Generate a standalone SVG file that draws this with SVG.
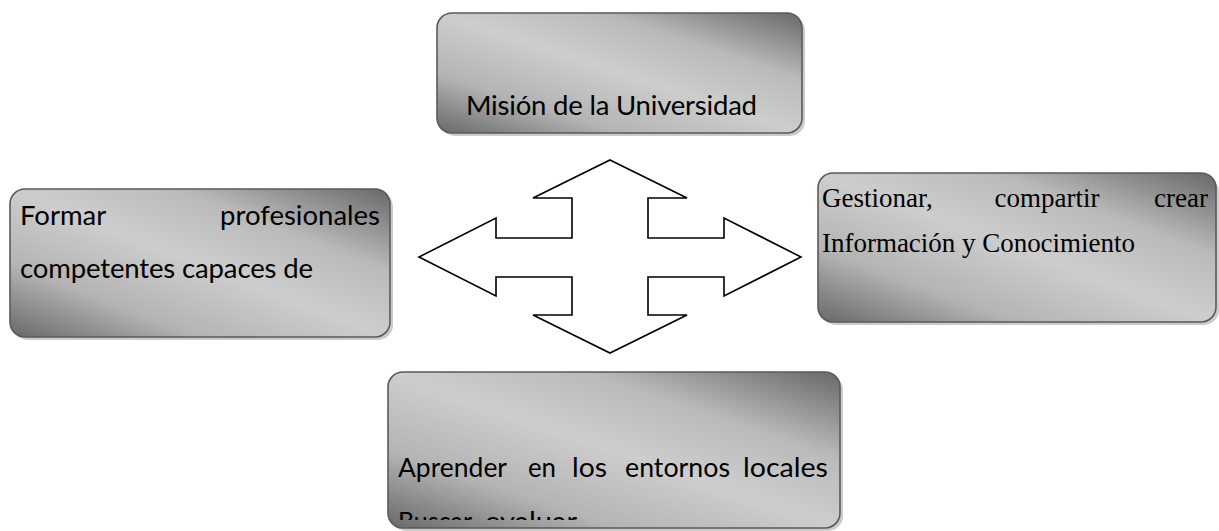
<svg xmlns="http://www.w3.org/2000/svg" width="1219" height="531" viewBox="0 0 1219 531">
<style>
.box{stroke:#5a5a5a;stroke-width:1.6;fill:url(#g)}
.shadow{fill:#a8a8a8;opacity:0.6}
.sans{font-family:Lato,"Open Sans","Liberation Sans",sans-serif;font-size:27.5px;fill:#000}
.serif{font-family:"Liberation Serif","Times New Roman",serif;font-size:27px;fill:#000}
.arrow{fill:#fff;stroke:#000;stroke-width:1.6;stroke-linejoin:miter}
</style>
<defs>
<linearGradient id="g" x1="0" y1="1" x2="1" y2="0">
<stop offset="0" stop-color="#686868"/>
<stop offset="0.25" stop-color="#b4b4b4"/>
<stop offset="0.5" stop-color="#cdcdcd"/>
<stop offset="0.72" stop-color="#bababa"/>
<stop offset="1" stop-color="#686868"/>
</linearGradient>
<clipPath id="clipBottom"><rect x="388" y="372" width="452" height="148"/></clipPath>
</defs>
<rect width="1219" height="531" fill="#fff"/>

<g id="connectors">
<polygon class="arrow" points="610,160 687,198 648,198 648,238 724,238 724,218 801,257 724,296 724,277 648,277 648,315 687,315 610,353 533,315 572,315 572,277 496,277 496,296 419,257 496,218 496,238 572,238 572,198 533,198"/>
</g>

<g id="node-mision">
<rect class="shadow" x="440" y="16" width="365" height="120" rx="15"/>
<rect class="box" x="437" y="13" width="365" height="120" rx="15"/>
<text class="sans" x="466" y="115" textLength="291">Misión de la Universidad</text>
</g>

<g id="node-formar">
<rect class="shadow" x="13" y="192" width="380" height="148" rx="15"/>
<rect class="box" x="10" y="189" width="380" height="148" rx="15"/>
<text class="sans" x="20" y="225">Formar</text>
<text class="sans" x="380" y="225" text-anchor="end">profesionales</text>
<text class="sans" x="20" y="278" textLength="293">competentes capaces de</text>
</g>

<g id="node-gestionar">
<rect class="shadow" x="821" y="177" width="398" height="148" rx="15"/>
<rect class="box" x="818" y="173" width="398" height="149" rx="15"/>
<text class="serif" x="822" y="207">Gestionar,</text>
<text class="serif" x="1047" y="207" text-anchor="middle">compartir</text>
<text class="serif" x="1208" y="207" text-anchor="end">crear</text>
<text class="serif" x="822" y="252" textLength="313">Información y Conocimiento</text>
</g>

<g id="node-aprender">
<rect class="shadow" x="391" y="375" width="452" height="156" rx="15"/>
<rect class="box" x="388" y="372" width="452" height="156" rx="15"/>
<g clip-path="url(#clipBottom)">
<text class="sans" x="398" y="477" textLength="109" lengthAdjust="spacingAndGlyphs">Aprender</text>
<text class="sans" x="528" y="477" textLength="28" lengthAdjust="spacingAndGlyphs">en</text>
<text class="sans" x="572" y="477" textLength="35" lengthAdjust="spacingAndGlyphs">los</text>
<text class="sans" x="625" y="477" textLength="105" lengthAdjust="spacingAndGlyphs">entornos</text>
<text class="sans" x="743" y="477" textLength="85" lengthAdjust="spacingAndGlyphs">locales</text>
<text class="sans" x="398" y="531" textLength="74" lengthAdjust="spacingAndGlyphs">Buscar</text>
<text class="sans" x="485" y="531" textLength="92" lengthAdjust="spacingAndGlyphs">evaluar</text>
</g>
</g>
</svg>
